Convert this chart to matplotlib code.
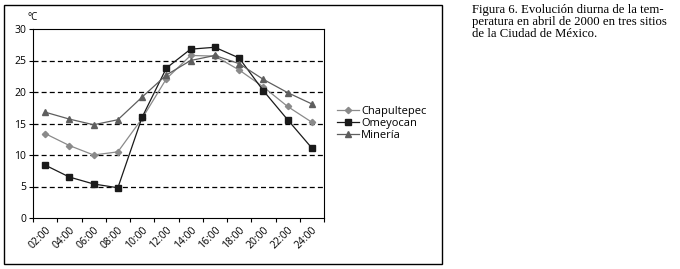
import matplotlib.pyplot as plt
from matplotlib.patches import Rectangle
import numpy as np

hours = ['02:00', '04:00', '06:00', '08:00', '10:00', '12:00',
         '14:00', '16:00', '18:00', '20:00', '22:00', '24:00']
chapultepec = [13.4, 11.5, 10.0, 10.5, 15.8, 22.1, 25.8, 25.7, 23.5, 20.8, 17.7, 15.2]
omeyocan = [8.4, 6.5, 5.4, 4.8, 16.0, 23.8, 26.8, 27.1, 25.4, 20.2, 15.6, 11.1]
mineria = [16.8, 15.7, 14.8, 15.6, 19.2, 22.7, 25.0, 25.8, 24.5, 22.0, 19.9, 18.1]

caption = ('Figura 6. Evolución diurna de la tem-\n'
           'peratura en abril de 2000 en tres sitios\n'
           'de la Ciudad de México.')

plt.rcParams['font.family'] = ['Open Sans', 'DejaVu Sans']

W, H = 680, 269
fig = plt.figure(figsize=(W / 100, H / 100), dpi=100)

# frame around the chart
fig.patches.append(Rectangle((4 / W, 1 - 264 / H), 438 / W, 259 / H,
                             transform=fig.transFigure, fill=False,
                             edgecolor='black', linewidth=1))

ax = fig.add_axes([33 / W, 1 - 218 / H, 291 / W, 189 / H])
x = np.arange(len(hours))

ax.plot(x, chapultepec, color='#8a8a8a', marker='D', markersize=3.2, linewidth=0.9,
        label='Chapultepec')
ax.plot(x, omeyocan, color='#1a1a1a', marker='s', markersize=3.8, linewidth=0.9,
        label='Omeyocan')
ax.plot(x, mineria, color='#5e5e5e', marker='^', markersize=4.8, linewidth=0.9,
        label='Minería')

ax.set_xlim(-0.5, len(hours) - 0.5)
ax.set_ylim(0, 30)
ax.set_yticks(range(0, 31, 5))
for yv in range(5, 30, 5):
    ax.axhline(yv, color='black', linestyle=(0, (4, 2.5)), linewidth=0.9, zorder=0)

ax.set_xticks(x)
ax.set_xticklabels(hours, rotation=45, ha='right', va='top', rotation_mode='anchor')
ax.set_xticks(np.arange(-0.5, len(hours)), minor=True)
ax.tick_params(axis='x', which='major', length=0, pad=5, labelsize=7.5)
ax.tick_params(axis='x', which='minor', length=3, width=0.8, direction='out')
ax.tick_params(axis='y', length=3, width=0.8, labelsize=7.5, pad=2)
for sp in ax.spines.values():
    sp.set_linewidth(0.8)

fig.text(27 / W, 1 - 18 / H, '°C', fontsize=7, ha='left', va='center')

ax.legend(loc='center left', bbox_to_anchor=(1.045, 0.50), frameon=False,
          fontsize=8, handlelength=2.0, handletextpad=0.15, labelspacing=0.12,
          borderaxespad=0, borderpad=0)

fig.text(472 / W, 1 - 4 / H, caption, fontsize=9.2, family='Liberation Serif',
         ha='left', va='top', linespacing=1.0)

fig.savefig('out.png', dpi=100)
